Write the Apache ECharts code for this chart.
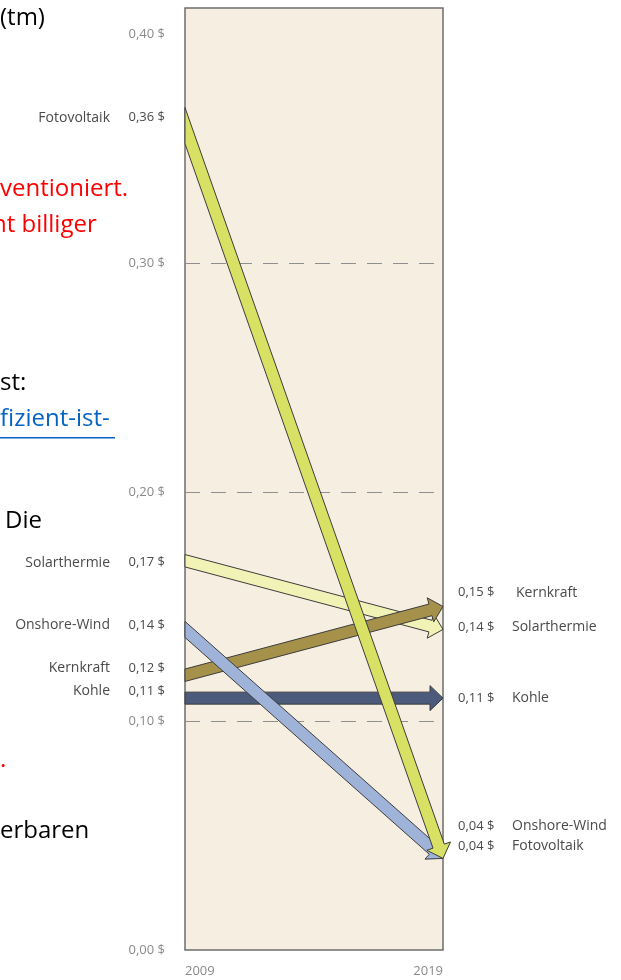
<!DOCTYPE html>
<html>
<head>
<meta charset="utf-8">
<script src="https://cdn.jsdelivr.net/npm/echarts@6/dist/echarts.min.js"></script>
<style>
  html, body { margin: 0; padding: 0; background: #fff; }
  #chart { width: 621px; height: 980px; }
</style>
</head>
<body>
<div id="chart"></div>
<script>
// Stromgestehungskosten je kWh, 2009 vs. 2019
const sources = ['Solarthermie', 'Kohle', 'Kernkraft', 'Onshore-Wind', 'Fotovoltaik'];
const years = ['2009', '2019'];
const cost2009 = [0.17, 0.11, 0.12, 0.14, 0.36];
const cost2019 = [0.14, 0.11, 0.15, 0.04, 0.04];

// look of each arrow + small label nudges (px)
const look = {
  'Solarthermie': { color: '#f1f3b6', leftDy: 2, rightDy: -2, nameGap: 54 },
  'Kohle': { color: '#4c5b7c', leftDy: -7, rightDy: 0, nameGap: 54 },
  'Kernkraft': { color: '#a6914b', leftDy: -7, rightDy: -14, nameGap: 58 },
  'Onshore-Wind': { color: '#9fb2d8', leftDy: -4, rightDy: -32, nameGap: 54 },
  'Fotovoltaik': { color: '#d8e164', leftDy: -8, rightDy: -12, nameGap: 54 },
};

const fmt = (v) => v.toFixed(2).replace('.', ',') + ' $';
const valueFont = '13px "Open Sans"';
const nameFont = '14px "Open Sans"';
const labelColor = '#4a4a4a';

const renderArrow = (params, api) => {
  const name = sources[params.seriesIndex];
  const st = look[name];
  const p0 = api.coord([api.value(0), api.value(1)]);
  const p1 = api.coord([api.value(2), api.value(3)]);
  const dx = p1[0] - p0[0];
  const dy = p1[1] - p0[1];
  const len = Math.sqrt(dx * dx + dy * dy);
  const ux = dx / len;
  const uy = dy / len;
  const nx = -uy;
  const ny = ux;
  const hw = 6;
  const hh = 12.5;
  const hl = 13;
  // start is cut vertically on the left panel edge
  const tA = -nx * hw / ux;
  const tB = nx * hw / ux;
  const sA = [p0[0] + nx * hw + ux * tA, p0[1] + ny * hw + uy * tA];
  const sB = [p0[0] - nx * hw + ux * tB, p0[1] - ny * hw + uy * tB];
  const bx = p1[0] - ux * hl;
  const by = p1[1] - uy * hl;
  const points = [
    sA,
    [bx + nx * hw, by + ny * hw],
    [bx + nx * hh, by + ny * hh],
    p1,
    [bx - nx * hh, by - ny * hh],
    [bx - nx * hw, by - ny * hw],
    sB,
  ];
  const v0 = api.value(1);
  const v1 = api.value(3);
  return {
    type: 'group',
    children: [
      {
        type: 'polygon',
        shape: { points },
        style: { fill: st.color, stroke: '#3d3d3d', lineWidth: 1, lineJoin: 'miter' },
      },
      {
        type: 'text',
        style: { text: name, x: p0[0] - 75, y: p0[1] + st.leftDy, align: 'right', verticalAlign: 'middle', font: nameFont, fill: labelColor },
      },
      {
        type: 'text',
        style: { text: fmt(v0), x: p0[0] - 20, y: p0[1] + st.leftDy, align: 'right', verticalAlign: 'middle', font: valueFont, fill: labelColor },
      },
      {
        type: 'text',
        style: { text: fmt(v1), x: p1[0] + 15, y: p1[1] + st.rightDy, align: 'left', verticalAlign: 'middle', font: valueFont, fill: labelColor },
      },
      {
        type: 'text',
        style: { text: name, x: p1[0] + 15 + st.nameGap, y: p1[1] + st.rightDy, align: 'left', verticalAlign: 'middle', font: nameFont, fill: labelColor },
      },
    ],
  };
};

const series = sources.map((name, i) => ({
  name,
  type: 'custom',
  renderItem: renderArrow,
  clip: false,
  encode: { x: [0, 2], y: [1, 3] },
  data: [[0, cost2009[i], 1, cost2019[i]]],
  z: 3,
}));

const docFont = '24px "Open Sans"';
const docText = (text, x, y, fill) => ({
  type: 'text',
  left: x,
  top: y,
  style: { text, font: docFont, fill },
});

const option = {
  animation: false,
  backgroundColor: '#ffffff',
  grid: {
    left: 185,
    right: 178,
    top: 8,
    bottom: 30,
    show: true,
    backgroundColor: '#f5eee1',
    borderColor: '#6e6e6e',
    borderWidth: 1.5,
  },
  xAxis: {
    type: 'category',
    data: years,
    boundaryGap: false,
    axisLine: { show: false },
    axisTick: { show: false },
    splitLine: { show: false },
    axisLabel: {
      color: '#8a8a8a',
      fontSize: 13,
      fontFamily: 'Open Sans',
      margin: 15,
      alignMinLabel: 'left',
      alignMaxLabel: 'right',
    },
  },
  yAxis: {
    type: 'value',
    min: 0,
    max: 0.4114,
    interval: 0.1,
    axisLine: { show: false },
    axisTick: { show: false },
    axisLabel: {
      color: '#8a8a8a',
      fontSize: 13,
      fontFamily: 'Open Sans',
      margin: 20,
      formatter: (v) => (Math.abs(v * 10 - Math.round(v * 10)) > 1e-6 ? '' : fmt(v)),
    },
    splitLine: {
      show: true,
      lineStyle: {
        color: ['rgba(0,0,0,0)', '#8f8f8f', '#8f8f8f', '#8f8f8f', 'rgba(0,0,0,0)', 'rgba(0,0,0,0)'],
        type: [15, 11],
        width: 1,
      },
    },
  },
  graphic: [
    docText('(tm)', 0, 6, '#000000'),
    docText('ventioniert.', 0, 177, '#ff0000'),
    docText('nt billiger', -8, 213, '#ff0000'),
    docText('st:', 0, 371, '#000000'),
    docText('fizient-ist-', 0, 407, '#0563c1'),
    { type: 'rect', shape: { x: 0, y: 437, width: 115, height: 1.5 }, style: { fill: '#0563c1' } },
    docText('Die', 5, 509, '#000000'),
    docText('.', 0, 748, '#ff0000'),
    docText('erbaren', 0, 819, '#000000'),
  ],
  series,
};

const chart = echarts.init(document.getElementById('chart'));
chart.setOption(option);
</script>
</body>
</html>
